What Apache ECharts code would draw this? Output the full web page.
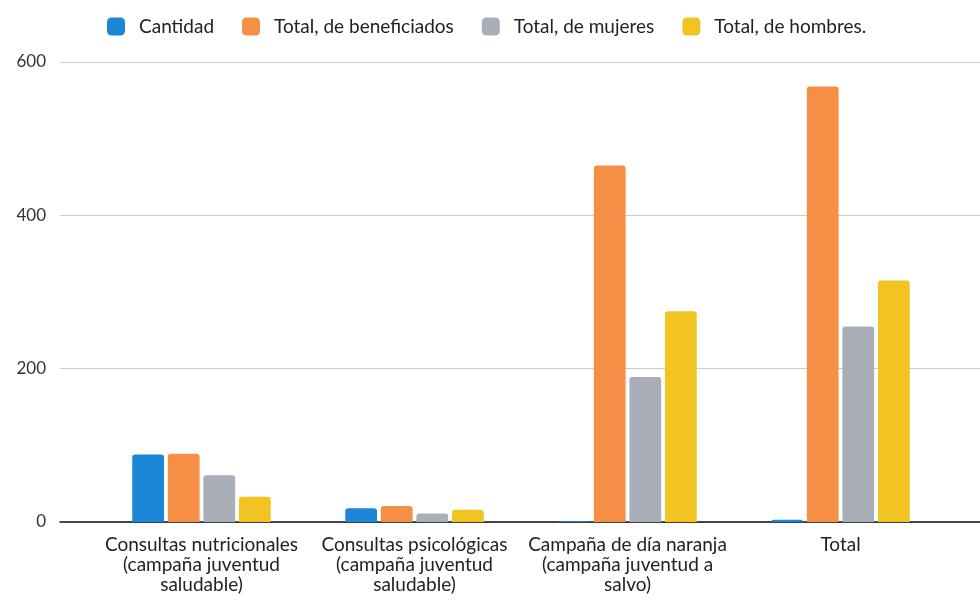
<!DOCTYPE html>
<html>
<head>
<meta charset="utf-8">
<script src="https://cdn.jsdelivr.net/npm/echarts@6/dist/echarts.min.js"></script>
<style>
html,body{margin:0;padding:0;background:#fff;}
#chart{width:980px;height:600px;}
</style>
</head>
<body>
<div id="chart"></div>
<script>
const categories = [
  "Consultas nutricionales\n(campaña juventud\nsaludable)",
  "Consultas psicológicas\n(campaña juventud\nsaludable)",
  "Campaña de día naranja\n(campaña juventud a\nsalvo)",
  "Total"
];
const seriesNames = ["Cantidad", "Total, de beneficiados", "Total, de mujeres", "Total, de hombres."];
const cantidad = [88, 18, 1, 3];
const beneficiados = [89, 21, 465, 568];
const mujeres = [61, 11, 189, 255];
const hombres = [33, 16, 275, 315];
const yTicks = [0, 200, 400, 600];

const colors = ["#1c86d6", "#f48f45", "#a9aeb9", "#f2c421"];
const font = "Lato, 'Open Sans', sans-serif";
const chart = echarts.init(document.getElementById('chart'));
const values = [cantidad, beneficiados, mujeres, hombres];

chart.setOption({
  animation: false,
  color: colors,
  legend: {
    top: 12,
    left: 102,
    itemWidth: 18,
    itemHeight: 18,
    itemGap: 28,
    icon: 'roundRect',
    textStyle: {fontFamily: font, fontSize: 19, color: '#222', padding: [0, 0, 0, 9]},
    data: seriesNames
  },
  grid: [
    {left: 60, right: 0, top: 62, bottom: 78},
    {left: 95, right: 33, top: 62, bottom: 78}
  ],
  xAxis: [
    {type: 'category', gridIndex: 0, data: categories, axisTick: {show: false},
     axisLabel: {show: false}, axisLine: {lineStyle: {color: '#111', width: 1.5}}},
    {type: 'category', gridIndex: 1, data: categories, axisTick: {show: false},
     axisLine: {show: false},
     axisLabel: {fontFamily: font, fontSize: 19, color: '#222', lineHeight: 20, margin: 13, interval: 0}}
  ],
  yAxis: [
    {type: 'value', gridIndex: 0, min: yTicks[0], max: yTicks[yTicks.length-1], interval: 200,
     axisLabel: {fontFamily: font, fontSize: 17, color: '#333', margin: 14},
     splitLine: {lineStyle: {color: '#c9ccd6', width: 1}}, axisLine: {show: false}, axisTick: {show: false}},
    {type: 'value', gridIndex: 1, min: yTicks[0], max: yTicks[yTicks.length-1], interval: 200,
     axisLabel: {show: false}, splitLine: {show: false}, axisLine: {show: false}, axisTick: {show: false}}
  ],
  series: seriesNames.map((n, i) => ({
    name: n,
    type: 'bar',
    xAxisIndex: 1,
    yAxisIndex: 1,
    data: values[i],
    barGap: '12%',
    barCategoryGap: '35%',
    itemStyle: {borderRadius: [3, 3, 0, 0]}
  }))
});
</script>
</body>
</html>
